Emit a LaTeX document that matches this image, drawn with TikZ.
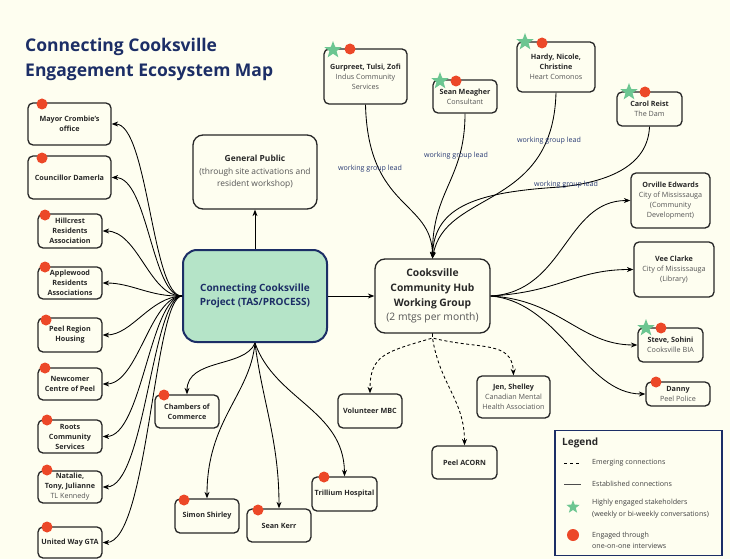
\documentclass[tikz,border=0pt]{standalone}
\usepackage{fontspec}
\setmainfont{Open Sans}
\usetikzlibrary{arrows.meta,shapes.geometric}
\definecolor{bg}{RGB}{254,254,240}
\definecolor{navy}{RGB}{28,46,102}
\definecolor{mint}{RGB}{181,228,200}
\definecolor{dotred}{RGB}{236,72,40}
\definecolor{stargreen}{RGB}{108,198,145}
\definecolor{txt}{RGB}{40,40,40}
\definecolor{subc}{RGB}{85,85,85}
\definecolor{wglc}{RGB}{40,58,115}
\newcommand{\subt}[1]{{\mdseries\color{subc}#1}}
\begin{document}
\begin{tikzpicture}[x=1pt,y=-1pt,
 box/.style={draw=black!85, line width=1.3pt, rounded corners=5pt, fill=bg, align=center, inner sep=1pt, text=txt, font=\fontsize{7.2}{10}\selectfont\bfseries},
 conn/.style={line width=0.85pt, draw=black, -{Stealth[length=6.5pt,width=5pt]}},
 emerg/.style={conn, dash pattern=on 3pt off 2.5pt},
 wgl/.style={font=\fontsize{7.1}{8}\selectfont, text=wglc, inner sep=1pt},
 reddot/.style={circle, fill=dotred, minimum size=11pt, inner sep=0pt},
 greenstar/.style={star, star points=5, star point ratio=2.4, fill=stargreen, minimum size=18pt, inner sep=0pt},
 legtext/.style={anchor=west, align=left, font=\fontsize{7.1}{11.5}\selectfont, text=black!75, inner sep=0pt},
]
\useasboundingbox (0,0) rectangle (730,559);
\fill[bg] (0,0) rectangle (730,559);

% title
\node[anchor=base west, font=\fontsize{17.5}{25}\selectfont\bfseries, text=navy, inner sep=0pt] (title1) at (25,52) {Connecting Cooksville};
\node[anchor=base west, font=\fontsize{17.5}{25}\selectfont\bfseries, text=navy, inner sep=0pt] (title2) at (25,77) {Engagement Ecosystem Map};

% centre
\node[box, draw=navy, fill=mint, line width=2pt, rounded corners=14pt, text=navy, font=\fontsize{10}{14.5}\selectfont\bfseries, minimum width=144pt, minimum height=92pt] (proj) at (255,296) {Connecting Cooksville\\Project (TAS/PROCESS)};
\node[box, rounded corners=10pt, font=\fontsize{8.4}{12.5}\selectfont\bfseries, minimum width=124pt, minimum height=74pt] (public) at (255,172) {General Public\\\subt{(through site activations and}\\\subt{resident workshop)}};
\node[box, rounded corners=10pt, font=\fontsize{10.3}{14.8}\selectfont\bfseries, minimum width=115pt, minimum height=74pt] (hub) at (432.5,296) {Cooksville\\Community Hub\\Working Group\\\subt{(2 mtgs per month)}};

% left column
\node[box, minimum width=83pt, minimum height=42pt] (mayor) at (69.5,124) {Mayor Crombie's\\office};
\node[box, minimum width=83pt, minimum height=43pt] (council) at (69.5,177.5) {Councillor Damerla};
\node[box, minimum width=64pt, minimum height=34pt] (hill) at (70,231) {Hillcrest\\Residents\\Association};
\node[box, minimum width=64pt, minimum height=32pt] (apple) at (70,283) {Applewood\\Residents\\Associations};
\node[box, minimum width=64pt, minimum height=34pt] (peelh) at (70,335) {Peel Region\\Housing};
\node[box, minimum width=64pt, minimum height=32pt] (newc) at (70,384) {Newcomer\\Centre of Peel};
\node[box, minimum width=64pt, minimum height=33pt] (roots) at (70,436.5) {Roots\\Community\\Services};
\node[box, minimum width=64pt, minimum height=32pt] (natalie) at (70,487) {Natalie,\\Tony, Julianne\\\subt{TL Kennedy}};
\node[box, minimum width=64pt, minimum height=31pt] (united) at (70,542.5) {United Way GTA};

% top
\node[box, minimum width=83pt, minimum height=55pt] (gurp) at (365.5,76.5) {Gurpreet, Tulsi, Zofi\\\subt{Indus Community}\\\subt{Services}};
\node[box, minimum width=64pt, minimum height=33pt] (seanm) at (465,96.5) {Sean Meagher\\\subt{Consultant}};
\node[box, minimum width=78pt, minimum height=50pt] (hardy) at (556,67) {Hardy, Nicole,\\Christine\\\subt{Heart Comonos}};
\node[box, minimum width=65pt, minimum height=34pt] (carol) at (649.5,109) {Carol Reist\\\subt{The Dam}};

% right
\node[box, minimum width=79pt, minimum height=55pt] (orv) at (670.5,200.5) {Orville Edwards\\\subt{City of Mississauga}\\\subt{(Community}\\\subt{Development)}};
\node[box, minimum width=80pt, minimum height=55pt] (vee) at (674,269.5) {Vee Clarke\\\subt{City of Mississauga}\\\subt{(Library)}};
\node[box, minimum width=65pt, minimum height=34pt] (steve) at (670.5,345) {Steve, Sohini\\\subt{Cooksville BIA}};
\node[box, minimum width=64pt, minimum height=24pt] (danny) at (678,394) {Danny\\\subt{Peel Police}};

% bottom
\node[box, minimum width=64pt, minimum height=33pt] (chamb) at (187,411.5) {Chambers of\\Commerce};
\node[box, minimum width=64pt, minimum height=34pt] (simon) at (207,516) {Simon Shirley};
\node[box, minimum width=64pt, minimum height=33pt] (seank) at (279,525.5) {Sean Kerr};
\node[box, minimum width=65pt, minimum height=34pt] (trill) at (344.5,494) {Trillium Hospital};
\node[box, minimum width=64pt, minimum height=34pt] (volun) at (370,411) {Volunteer MBC};
\node[box, minimum width=73pt, minimum height=42pt] (jen) at (513.5,397) {Jen, Shelley\\\subt{Canadian Mental}\\\subt{Health Association}};
\node[box, minimum width=65pt, minimum height=33pt] (acorn) at (464.5,462.5) {Peel ACORN};

% connectors: centre
\draw[conn] (proj.north) -- (public.south);
\draw[conn] (proj.east) -- (hub.west);

% left fan
\draw[conn] (proj.west) .. controls (152,297) and (148,124) .. (mayor.east);
\draw[conn] (proj.west) .. controls (152,297) and (148,177.5) .. (council.east);
\draw[conn] (proj.west) .. controls (150,297) and (138,231) .. (hill.east);
\draw[conn] (proj.west) .. controls (150,297) and (132,283) .. (apple.east);
\draw[conn] (proj.west) .. controls (150,297) and (132,335) .. (peelh.east);
\draw[conn] (proj.west) .. controls (150,297) and (138,384) .. (newc.east);
\draw[conn] (proj.west) .. controls (150,297) and (142,436.5) .. (roots.east);
\draw[conn] (proj.west) .. controls (152,297) and (145,487) .. (natalie.east);
\draw[conn] (proj.west) .. controls (154,297) and (148,542.5) .. (united.east);

% bottom fan
\draw[conn] (proj.south) .. controls (245,368) and (187,358) .. (chamb.north);
\draw[conn] (proj.south) .. controls (250,395) and (207,420) .. (simon.north);
\draw[conn] (proj.south) .. controls (262,400) and (279,440) .. (seank.north);
\draw[conn] (proj.south) .. controls (275,400) and (344,410) .. (trill.north);

% working group leads
\draw[conn] (gurp.south) .. controls (368,210) and (432,200) .. (hub.north);
\draw[conn] (seanm.south) .. controls (465,180) and (432,190) .. (hub.north);
\draw[conn] (hardy.south) .. controls (553,210) and (445,190) .. (hub.north);
\coordinate (cmid) at (560,187);
\draw[line width=0.85pt] (carol.south) .. controls (648,165) and (610,182) .. (cmid);
\draw[conn] (cmid) .. controls (480,192) and (434,205) .. (hub.north);
\node[wgl] (w1) at (370,169) {working group lead};
\node[wgl] (w2) at (456,156) {working group lead};
\node[wgl] (w3) at (549,141) {working group lead};
\node[wgl] (w4) at (566,185) {working group lead};

% right fan
\draw[conn] (hub.east) .. controls (565,292) and (565,200.5) .. (orv.west);
\draw[conn] (hub.east) .. controls (560,292) and (575,269.5) .. (vee.west);
\draw[conn] (hub.east) .. controls (560,300) and (580,345) .. (steve.west);
\draw[conn] (hub.east) .. controls (560,302) and (585,394) .. (danny.west);

% emerging
\coordinate (hs) at (432.5,338);
\draw[emerg] (hub.south) -- (hs) .. controls (385,352) and (370,355) .. (volun.north);
\draw[emerg] (hub.south) -- (hs) .. controls (480,350) and (512,340) .. (jen.north);
\draw[emerg] (hub.south) -- (hs) .. controls (440,385) and (464.5,400) .. (acorn.north);

% markers
\node[greenstar] (s1) at (333,50) {};
\node[reddot] (r1) at (350,49) {};
\node[greenstar] (s2) at (440,81) {};
\node[reddot] (r2) at (456,81) {};
\node[greenstar] (s3) at (525,42) {};
\node[reddot] (r3) at (542,43) {};
\node[greenstar] (s4) at (629,92) {};
\node[reddot] (r4) at (645,92) {};
\node[greenstar] (s5) at (646,328) {};
\node[reddot] (r5) at (661,328) {};
\node[reddot] (r6) at (42,104) {};
\node[reddot] (r7) at (42,158) {};
\node[reddot] (r8) at (45,215) {};
\node[reddot] (r9) at (45,267) {};
\node[reddot] (r10) at (46,320) {};
\node[reddot] (r11) at (45,368) {};
\node[reddot] (r12) at (47,420) {};
\node[reddot] (r13) at (47,470) {};
\node[reddot] (r14) at (47,527) {};
\node[reddot] (r15) at (164,395) {};
\node[reddot] (r16) at (184,500) {};
\node[reddot] (r17) at (258,510) {};
\node[reddot] (r18) at (324,477) {};
\node[reddot] (r19) at (656,382) {};

% legend
\node[draw=navy, line width=1.3pt, fill=bg, minimum width=167pt, minimum height=125pt, inner sep=0pt] (legend) at (638.5,493) {};
\node[anchor=west, font=\fontsize{10}{12}\selectfont\bfseries, text=txt, inner sep=0pt] (legt) at (562,443) {Legend};
\coordinate (la1) at (564,463);
\coordinate (lb1) at (581,463);
\draw[line width=0.9pt, dash pattern=on 3pt off 3pt] (la1) -- (lb1);
\coordinate (la2) at (564,484);
\coordinate (lb2) at (581,484);
\draw[line width=0.9pt, black!70] (la2) -- (lb2);
\node[greenstar, minimum size=14pt] (ls) at (573,507) {};
\node[reddot, minimum size=12pt] (ld) at (573,535) {};
\node[legtext] (lt1) at (592,463) {Emerging connections};
\node[legtext] (lt2) at (592,484) {Established connections};
\node[legtext] (lt3) at (592,508.5) {Highly engaged stakeholders\\(weekly or bi-weekly conversations)};
\node[legtext] (lt4) at (592,540.5) {Engaged through\\one-on-one interviews};
\end{tikzpicture}
\end{document}
